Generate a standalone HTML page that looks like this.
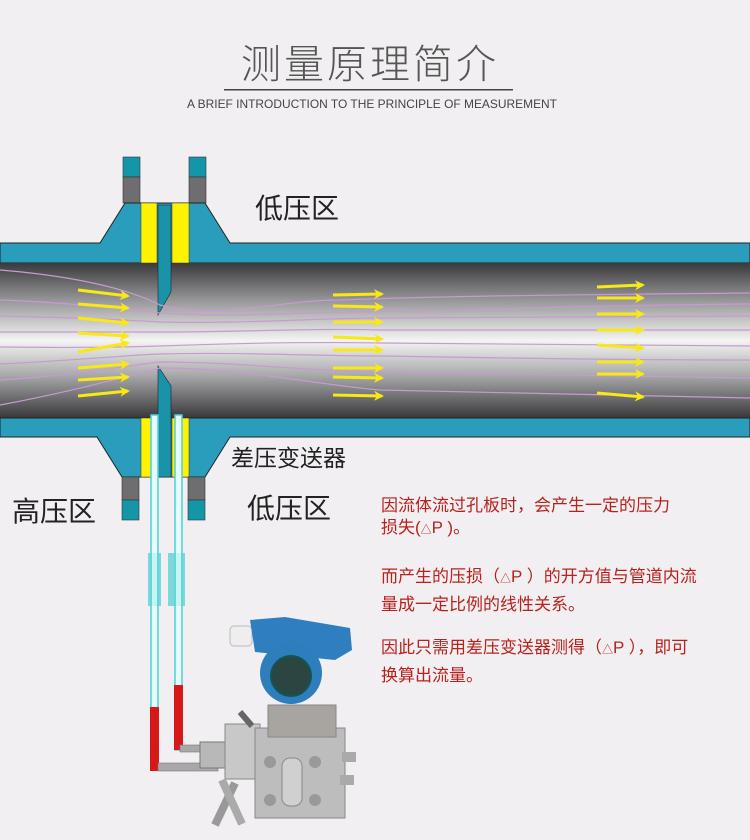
<!DOCTYPE html>
<html><head><meta charset="utf-8"><style>
html,body{margin:0;padding:0;background:#f1eff1;}
svg{display:block}
text{font-family:"Liberation Sans","Noto Sans CJK SC",sans-serif;}
</style></head><body>
<svg width="750" height="840" viewBox="0 0 750 840" xmlns="http://www.w3.org/2000/svg">
<defs>
<linearGradient id="pipe" x1="0" y1="0" x2="0" y2="1">
<stop offset="0" stop-color="#3a3a3c"/>
<stop offset="0.25" stop-color="#9a9a9c"/>
<stop offset="0.5" stop-color="#f4f4f4"/>
<stop offset="0.72" stop-color="#aaaaac"/>
<stop offset="1" stop-color="#38383a"/>
</linearGradient>
<marker id="ah" markerWidth="10" markerHeight="10" refX="8" refY="5" orient="auto" markerUnits="userSpaceOnUse"><path d="M0,0 L10,5 L0,10 L3,5 Z" fill="#f7e816"/></marker>
</defs>
<rect width="750" height="840" fill="#f1eff1"/>
<text x="370" y="78" text-anchor="middle" font-size="40" fill="#555" font-family="'Noto Serif CJK SC',serif" font-weight="300" letter-spacing="3">测量原理简介</text>
<rect x="224" y="89" width="289" height="1.5" fill="#444"/>
<text x="372" y="108" text-anchor="middle" font-size="12" fill="#444" textLength="370" lengthAdjust="spacingAndGlyphs">A BRIEF INTRODUCTION TO THE PRINCIPLE OF MEASUREMENT</text>

<rect x="123" y="157" width="17" height="20" fill="#1495a8" stroke="#333" stroke-width="0.6"/>
<rect x="123" y="177" width="17" height="26" fill="#6e6e70" stroke="#333" stroke-width="0.6"/>
<rect x="189" y="157" width="17" height="20" fill="#1495a8" stroke="#333" stroke-width="0.6"/>
<rect x="189" y="177" width="17" height="26" fill="#6e6e70" stroke="#333" stroke-width="0.6"/>
<path d="M0,243 L100,243 L125,203 L205,203 L230,243 L750,243 L750,263 L0,263 Z" fill="#2a9dbc" stroke="#222" stroke-width="1"/>
<rect x="0" y="263" width="750" height="155" fill="url(#pipe)"/>
<path d="M0,418 L750,418 L750,437 L230,437 L205,477 L122,477 L97,437 L0,437 Z" fill="#2a9dbc" stroke="#222" stroke-width="1"/>
<rect x="141" y="203" width="16" height="60" fill="#fff200" stroke="#333" stroke-width="0.5"/>
<rect x="172" y="203" width="17" height="60" fill="#fff200" stroke="#333" stroke-width="0.5"/>
<rect x="141" y="418" width="16" height="59" fill="#fff200" stroke="#333" stroke-width="0.5"/>
<rect x="172" y="418" width="17" height="59" fill="#fff200" stroke="#333" stroke-width="0.5"/>
<path d="M158,205 L171,205 L171,292 L158,315 Z" fill="#1a93a8" stroke="#222" stroke-width="0.6"/>
<path d="M158,366 L171,386 L171,477 L158,477 Z" fill="#1a93a8" stroke="#222" stroke-width="0.6"/>
<rect x="122" y="477" width="17" height="23" fill="#6e6e70" stroke="#333" stroke-width="0.6"/>
<rect x="122" y="500" width="17" height="20" fill="#1495a8" stroke="#333" stroke-width="0.6"/>
<rect x="188" y="477" width="17" height="23" fill="#6e6e70" stroke="#333" stroke-width="0.6"/>
<rect x="188" y="500" width="17" height="20" fill="#1495a8" stroke="#333" stroke-width="0.6"/>

<g fill="none" stroke="#c79ad0" stroke-width="1.2">
<path d="M0,270 C60,275 120,285 160,305 C220,320 280,300 340,300 C450,296 550,295 750,293"/>
<path d="M0,300 C80,303 130,310 160,313 C240,318 300,312 360,312 C480,310 600,305 750,304"/>
<path d="M0,316 C80,318 130,320 160,322 C240,324 320,318 380,318 C500,318 620,316 750,316"/>
<path d="M0,332 C80,332 130,332 160,332 C240,332 320,328 380,330 C500,330 620,330 750,330"/>
<path d="M0,347 C80,348 130,347 160,346 C240,343 320,342 380,343 C500,344 620,346 750,346"/>
<path d="M0,364 C80,360 130,355 160,354 C240,352 320,356 380,356 C500,358 620,360 750,360"/>
<path d="M0,380 C80,375 130,365 160,362 C240,362 320,372 380,372 C500,374 620,376 750,378"/>
<path d="M0,405 C80,390 130,375 160,368 C240,368 320,385 380,390 C500,392 620,395 750,398"/>
</g>
<g stroke="#f7e816" stroke-width="3" marker-end="url(#ah)">
<line x1="78" y1="290" x2="128" y2="296"/>
<line x1="78" y1="304" x2="128" y2="308"/>
<line x1="78" y1="318" x2="128" y2="323"/>
<line x1="78" y1="333" x2="128" y2="336"/>
<line x1="78" y1="352" x2="128" y2="343"/>
<line x1="78" y1="368" x2="128" y2="364"/>
<line x1="78" y1="380" x2="128" y2="377"/>
<line x1="78" y1="396" x2="128" y2="391"/>
<line x1="333" y1="295" x2="382" y2="294"/>
<line x1="333" y1="306" x2="382" y2="307"/>
<line x1="333" y1="322" x2="382" y2="322"/>
<line x1="333" y1="337" x2="382" y2="339"/>
<line x1="333" y1="350" x2="382" y2="350"/>
<line x1="333" y1="368" x2="382" y2="368"/>
<line x1="333" y1="377" x2="382" y2="378"/>
<line x1="333" y1="395" x2="382" y2="396"/>
<line x1="597" y1="287" x2="643" y2="285"/>
<line x1="597" y1="298" x2="643" y2="298"/>
<line x1="597" y1="314" x2="643" y2="314"/>
<line x1="597" y1="330" x2="643" y2="330"/>
<line x1="597" y1="345" x2="643" y2="348"/>
<line x1="597" y1="362" x2="643" y2="362"/>
<line x1="597" y1="374" x2="643" y2="374"/>
<line x1="597" y1="393" x2="643" y2="397"/>
</g>

<rect x="151" y="415" width="7" height="355" fill="#e8fbfb" stroke="#4fd0d6" stroke-width="1.5"/>
<rect x="175" y="415" width="7" height="335" fill="#e8fbfb" stroke="#4fd0d6" stroke-width="1.5"/>
<rect x="148" y="553" width="13" height="53" fill="#5fd3d6" opacity="0.8"/>
<rect x="168" y="553" width="17" height="53" fill="#5fd3d6" opacity="0.8"/>
<rect x="152" y="553" width="5" height="53" fill="#c8f4f4"/>
<rect x="176" y="553" width="5" height="53" fill="#c8f4f4"/>
<rect x="150" y="707" width="9" height="64" fill="#d71818"/>
<rect x="174" y="685" width="9" height="65" fill="#d71818"/>

<g>
<rect x="158" y="763" width="60" height="8" fill="#a8a8a8" stroke="#777" stroke-width="0.6"/>
<rect x="180" y="745" width="40" height="7" fill="#a8a8a8" stroke="#777" stroke-width="0.6"/>
<rect x="200" y="742" width="28" height="26" fill="#b8b8b8" stroke="#777"/>
<rect x="225" y="724" width="35" height="55" fill="#c8c8c8" stroke="#888"/>
<line x1="235" y1="783" x2="215" y2="825" stroke="#999" stroke-width="8"/>
<line x1="222" y1="780" x2="242" y2="824" stroke="#aaa" stroke-width="8"/>
<line x1="240" y1="712" x2="252" y2="726" stroke="#666" stroke-width="6"/>
<rect x="255" y="728" width="90" height="90" fill="#bdbdbd" stroke="#888"/>
<rect x="282" y="758" width="20" height="48" rx="8" fill="#d0d0d0" stroke="#888"/>
<circle cx="270" cy="762" r="6" fill="#999"/><circle cx="315" cy="762" r="6" fill="#999"/>
<circle cx="270" cy="800" r="6" fill="#999"/><circle cx="315" cy="800" r="6" fill="#999"/>
<rect x="342" y="752" width="14" height="10" fill="#aaa"/>
<rect x="340" y="775" width="14" height="10" fill="#aaa"/>
<rect x="268" y="705" width="68" height="32" fill="#a8a4a0" stroke="#888"/>
<rect x="230" y="626" width="22" height="20" rx="4" fill="#eee" stroke="#bbb"/>
<path d="M250,620 L285,617 L350,628 L352,650 L335,660 L255,652 Z" fill="#2f7fc0"/>
<circle cx="291" cy="673" r="31" fill="#2e7dbd"/>
<circle cx="291" cy="676" r="20" fill="#2b4540" stroke="#155" stroke-width="2"/>
</g>

<g fill="#222">
<text x="255" y="218" font-size="28">低压区</text>
<text x="231" y="466" font-size="23">差压变送器</text>
<text x="12" y="521" font-size="28">高压区</text>
<text x="247" y="518" font-size="28">低压区</text>
</g>
<g fill="#b8221e" font-size="17">
<text x="381" y="511">因流体流过孔板时，会产生一定的压力</text>
<text x="381" y="533">损失(<tspan font-size="11">△</tspan>P )。</text>
<text x="381" y="582">而产生的压损（<tspan font-size="11">△</tspan>P ）的开方值与管道内流</text>
<text x="381" y="610">量成一定比例的线性关系。</text>
<text x="381" y="653">因此只需用差压变送器测得（<tspan font-size="11">△</tspan>P ），即可</text>
<text x="381" y="681">换算出流量。</text>
</g>
</svg>
</body></html>
